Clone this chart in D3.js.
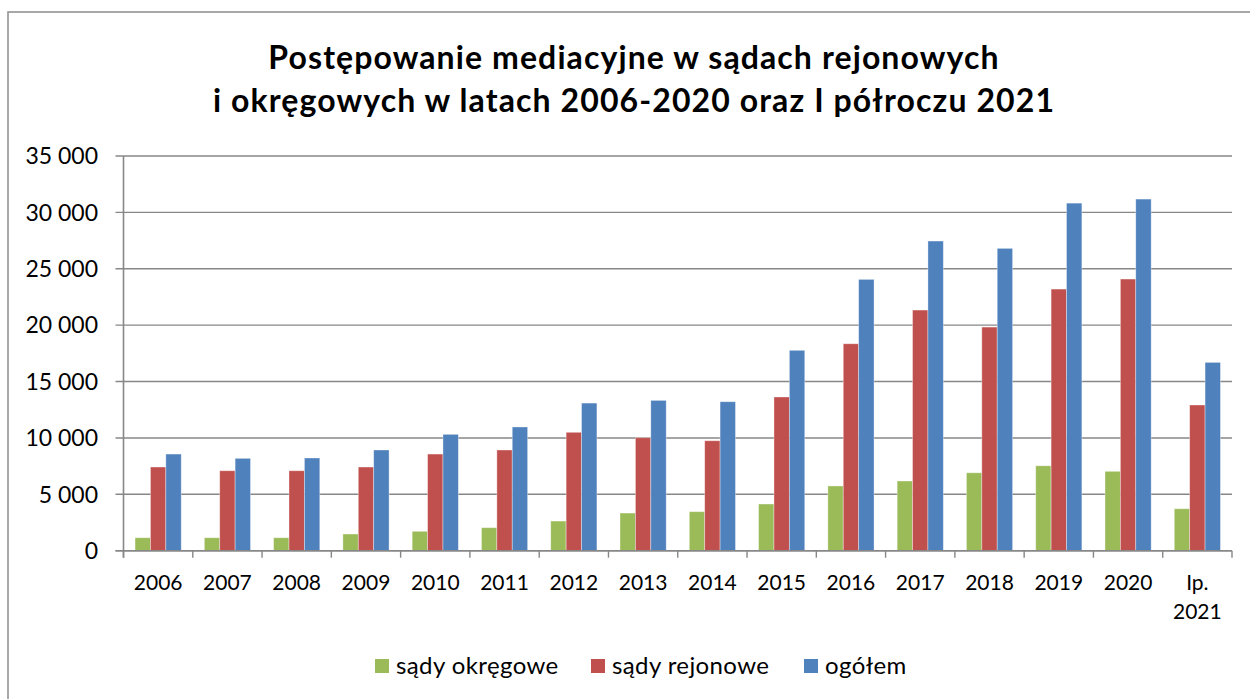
<!DOCTYPE html>
<html>
<head>
<meta charset="utf-8">
<script src="https://cdn.jsdelivr.net/npm/d3@7"></script>
<style>
  html, body { margin: 0; padding: 0; background: #fff; }
  svg { display: block; }
  text { font-family: Lato, "Open Sans", sans-serif; fill: #000; }
</style>
</head>
<body>
<svg id="chart" width="1250" height="699"></svg>
<script>
const categories = ["2006","2007","2008","2009","2010","2011","2012","2013","2014","2015","2016","2017","2018","2019","2020","Ip.\n2021"];
const sadyOkregowe = [1150,1150,1150,1480,1720,2040,2630,3340,3460,4140,5740,6180,6910,7530,7040,3720];
const sadyRejonowe = [7420,7090,7090,7420,8570,8930,10500,10020,9750,13630,18350,21340,19830,23200,24090,12920];
const ogolem = [8570,8190,8220,8930,10320,10970,13090,13330,13210,17770,24060,27460,26810,30820,31180,16700];
const yTicks = [0,5000,10000,15000,20000,25000,30000,35000];
const seriesNames = ["sądy okręgowe","sądy rejonowe","ogółem"];
const seriesColors = ["#9BBB59","#C0504D","#4F81BD"];
const titleLines = ["Postępowanie mediacyjne w sądach rejonowych","i okręgowych w latach 2006-2020 oraz I półroczu 2021"];

const seriesValues = [sadyOkregowe, sadyRejonowe, ogolem];
const svg = d3.select("#chart");

// outer frame
svg.append("rect").attr("x", 8).attr("y", 12).attr("width", 1260).attr("height", 700)
  .attr("fill", "none").attr("stroke", "#8c8c8c").attr("stroke-width", 1.5);

// title
svg.append("g").selectAll("text").data(titleLines).join("text")
  .attr("x", 634).attr("y", (d, i) => 69 + i * 43)
  .attr("text-anchor", "middle").attr("font-weight", "bold").attr("font-size", 32)
  .attr("letter-spacing", 1.1)
  .text(d => d);

const pLeft = 123.5, pRight = 1232, pTop = 156, pBottom = 550.7;
const x = d3.scaleBand().domain(d3.range(categories.length)).range([pLeft, pRight])
  .paddingInner(1/3).paddingOuter(1/6);
const xs = d3.scaleBand().domain(d3.range(seriesNames.length)).range([0, x.bandwidth()]);
const y = d3.scaleLinear().domain([0, 35000]).range([pBottom, pTop]);

const fmt = v => d3.format(",")(v).replace(/,/g, " ");

// gridlines
svg.append("g").selectAll("line").data(yTicks).join("line")
  .attr("x1", pLeft - 8).attr("x2", pRight)
  .attr("y1", d => y(d)).attr("y2", d => y(d))
  .attr("stroke", "#878787").attr("stroke-width", 1.4);

// y labels
svg.append("g").selectAll("text").data(yTicks).join("text")
  .attr("x", 98).attr("y", d => y(d)).attr("dy", "0.36em")
  .attr("text-anchor", "end").attr("font-size", 23)
  .text(d => fmt(d));

// bars
const gGroups = svg.append("g").selectAll("g").data(categories).join("g")
  .attr("transform", (d, i) => `translate(${x(i)},0)`);
gGroups.selectAll("rect").data((d, i) => seriesValues.map((s, k) => ({k, v: s[i]}))).join("rect")
  .attr("x", d => xs(d.k)).attr("width", xs.bandwidth())
  .attr("y", d => y(d.v)).attr("height", d => y(0) - y(d.v))
  .attr("fill", d => seriesColors[d.k])
  .attr("stroke", "rgba(255,255,255,0.45)").attr("stroke-width", 0.8);

// axes lines
svg.append("line").attr("x1", pLeft).attr("x2", pLeft).attr("y1", pTop).attr("y2", pBottom + 7)
  .attr("stroke", "#878787").attr("stroke-width", 1.6);
svg.append("line").attr("x1", pLeft - 8).attr("x2", pRight).attr("y1", pBottom).attr("y2", pBottom)
  .attr("stroke", "#878787").attr("stroke-width", 1.6);

// x ticks at band boundaries
const step = x.step();
svg.append("g").selectAll("line").data(d3.range(categories.length + 1)).join("line")
  .attr("x1", i => pLeft + i * step).attr("x2", i => pLeft + i * step)
  .attr("y1", pBottom).attr("y2", pBottom + 7)
  .attr("stroke", "#878787").attr("stroke-width", 1.4);

// x labels
const xl = svg.append("g").selectAll("text").data(categories).join("text")
  .attr("x", (d, i) => x(i) + x.bandwidth() / 2).attr("y", 590)
  .attr("text-anchor", "middle").attr("font-size", 21);
xl.selectAll("tspan").data(d => d.split("\n")).join("tspan")
  .attr("x", function() { return this.parentNode.getAttribute("x"); })
  .attr("dy", (d, i) => i === 0 ? 0 : 29)
  .text(d => d);

// legend
const legendX = [375, 591, 804];
const lg = svg.append("g").selectAll("g").data(seriesNames).join("g")
  .attr("transform", (d, i) => `translate(${legendX[i]},659)`);
lg.append("rect").attr("width", 14).attr("height", 14).attr("fill", (d, i) => seriesColors[i]);
lg.append("text").attr("x", 21).attr("y", 15).attr("font-size", 24).attr("letter-spacing", 0.4).text(d => d);
</script>
</body>
</html>
